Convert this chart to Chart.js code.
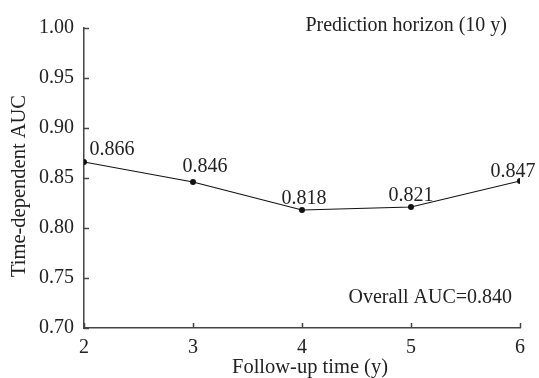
<!DOCTYPE html>
<html>
<head>
<meta charset="utf-8">
<script src="https://cdn.jsdelivr.net/npm/chart.js@4/dist/chart.umd.min.js"></script>
<style>
  html, body { margin: 0; padding: 0; background: #fff; }
  #wrap { width: 539px; height: 378px; }
</style>
</head>
<body>
<div id="wrap"><canvas id="aucChart" width="539" height="378"></canvas></div>
<script>
// data
const followUpYears = [2, 3, 4, 5, 6];
const aucValues = [0.866, 0.846, 0.818, 0.821, 0.847];
const aucLabels = ["0.866", "0.846", "0.818", "0.821", "0.847"];
const yTickValues = [0.70, 0.75, 0.80, 0.85, 0.90, 0.95, 1.00];
const horizonNote = "Prediction horizon (10 y)";
const overallNote = "Overall AUC=0.840";

const FONT = "'Liberation Serif', 'Times New Roman', serif";
const INK = "#222";
const AXIS = "#444";

// nudges for the value labels so they sit like in the figure
const labelDx = [28, 12, 2, 0, -7];
const labelDy = [-7, -10, -6, -6, -4];

const decorPlugin = {
  id: "decor",
  afterDraw(chart) {
    const { ctx, chartArea, scales } = chart;
    const xs = scales.x, ys = scales.y;
    ctx.save();
    ctx.strokeStyle = AXIS;
    ctx.lineWidth = 1.5;
    // inward tick marks
    yTickValues.forEach((v) => {
      const py = Math.round(ys.getPixelForValue(v)) + 0.5;
      ctx.beginPath();
      ctx.moveTo(chartArea.left, py);
      ctx.lineTo(chartArea.left + 5, py);
      ctx.stroke();
    });
    followUpYears.forEach((v) => {
      const px = Math.round(xs.getPixelForValue(v)) + 0.5;
      ctx.beginPath();
      ctx.moveTo(px, chartArea.bottom);
      ctx.lineTo(px, chartArea.bottom - 5);
      ctx.stroke();
    });

    ctx.fillStyle = INK;
    ctx.font = "20px " + FONT;
    ctx.textBaseline = "alphabetic";
    ctx.textAlign = "center";
    aucValues.forEach((v, i) => {
      const px = xs.getPixelForValue(followUpYears[i]);
      const py = ys.getPixelForValue(v);
      ctx.fillText(aucLabels[i], px + labelDx[i], py + labelDy[i]);
    });

    // notes inside plot
    ctx.textAlign = "right";
    ctx.fillText(horizonNote, chartArea.right - 13, chartArea.top + 3);
    ctx.fillText(overallNote, chartArea.right - 8, chartArea.bottom - 25);

    // axis titles
    ctx.textAlign = "center";
    ctx.textBaseline = "middle";
    ctx.font = "20.5px " + FONT;
    ctx.fillText("Follow-up time (y)", (chartArea.left + chartArea.right) / 2 + 8, chartArea.bottom + 40);
    ctx.translate(20, (chartArea.top + chartArea.bottom) / 2 + 8);
    ctx.rotate(-Math.PI / 2);
    ctx.fillText("Time-dependent AUC", 0, 0);
    ctx.restore();
  }
};

new Chart(document.getElementById("aucChart"), {
  type: "line",
  data: {
    datasets: [{
      data: followUpYears.map((x, i) => ({ x: x, y: aucValues[i] })),
      borderColor: "#111",
      borderWidth: 1.2,
      backgroundColor: "#111",
      pointRadius: 3,
      pointBorderWidth: 0,
      tension: 0,
      fill: false
    }]
  },
  options: {
    responsive: false,
    animation: false,
    devicePixelRatio: 1,
    layout: { padding: { left: 0, right: 19, top: 28, bottom: 0 } },
    plugins: { legend: { display: false }, tooltip: { enabled: false } },
    scales: {
      x: {
        type: "linear",
        min: 2,
        max: 6,
        afterFit: (s) => { s.height = 50; },
        afterBuildTicks: (s) => { s.ticks = followUpYears.map((v) => ({ value: v })); },
        grid: { display: false, drawTicks: false },
        border: { display: true, color: AXIS, width: 1.5 },
        ticks: { color: INK, font: { family: FONT, size: 20 }, padding: 8 }
      },
      y: {
        min: 0.70,
        max: 1.00,
        afterFit: (s) => { s.width = 84; },
        afterBuildTicks: (s) => { s.ticks = yTickValues.map((v) => ({ value: v })); },
        grid: { display: false, drawTicks: false },
        border: { display: true, color: AXIS, width: 1.5 },
        ticks: {
          color: INK,
          font: { family: FONT, size: 20 },
          padding: 10,
          callback: (v) => v.toFixed(2)
        }
      }
    }
  },
  plugins: [decorPlugin]
});
</script>
</body>
</html>
